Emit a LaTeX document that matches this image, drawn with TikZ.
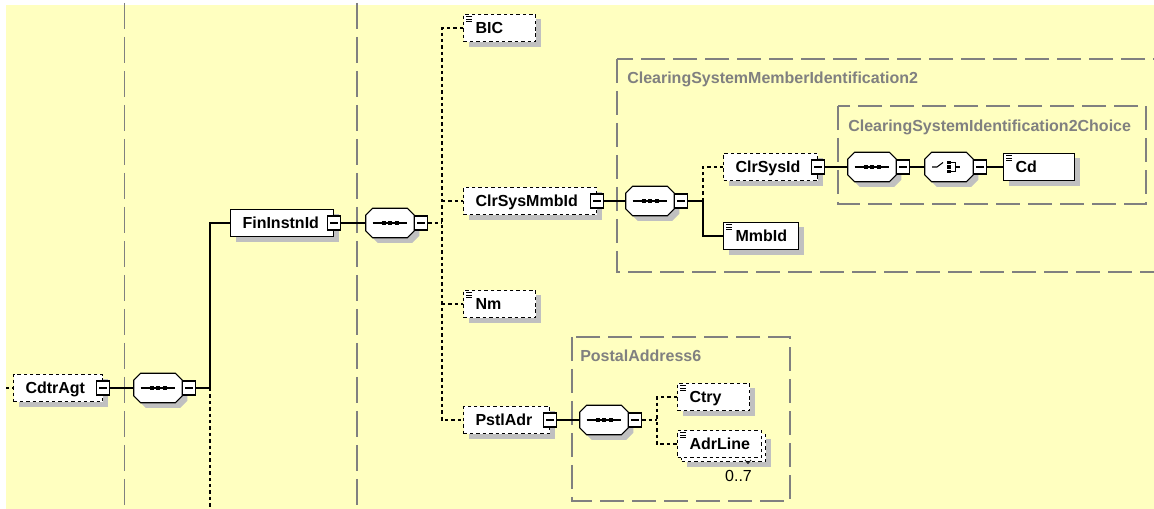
\documentclass[tikz,border=0pt]{standalone}
\usepackage{fontspec}
\setmainfont{Liberation Sans}
\usepackage{xcolor}
\usepackage{tikz}
\usetikzlibrary{positioning,shadows}

\definecolor{diagbg}{RGB}{255,255,192}
\definecolor{groupgray}{RGB}{128,128,128}
\definecolor{shadowgray}{RGB}{192,192,192}

\newcommand{\elemfont}{\fontsize{12pt}{14pt}\selectfont\bfseries}
\newcommand{\occfont}{\fontsize{12pt}{14pt}\selectfont}

\tikzset{
  elembox/.style={draw, line width=0.8pt, fill=white, font=\elemfont, align=left,
    inner xsep=9pt, inner ysep=0pt, minimum height=20.6pt,
    text height=10.6pt, text depth=2pt, anchor=west},
  shadowed/.style={drop shadow={shadow xshift=3.75pt, shadow yshift=-3.75pt,
    fill=shadowgray, opacity=1}},
  elem/.style={elembox, shadowed},
  optelem/.style={elem, dash pattern=on 2.6pt off 2.2pt},
  seqbox/.style={rectangle, minimum width=36pt, minimum height=21.75pt, inner sep=0pt},
  minusbox/.style={draw, line width=0.8pt, fill=white, minimum width=9.75pt,
    minimum height=10.5pt, inner sep=0pt,
    path picture={\draw[line width=0.8pt] ([xshift=2pt]path picture bounding box.west)
      -- ([xshift=-2pt]path picture bounding box.east);}},
  link/.style={line width=0.8pt},
  optlink/.style={link, dash pattern=on 2.6pt off 2.2pt},
  groupbox/.style={draw=groupgray, line width=0.8pt, dash pattern=on 18pt off 6pt},
  grouplabel/.style={font=\elemfont, text=groupgray, anchor=base west, inner sep=0pt},
  column/.style={draw=groupgray, line width=0.8pt, dash pattern=on 19.5pt off 6pt}
}

% octagon frame of a compositor node, with its shadow
\newcommand{\octframe}[1]{%
  \foreach \ox/\oy/\octstyle in {5/5/{fill=shadowgray}, 0/0/{fill=white, draw, line width=0.8pt}}
    \path[style/.expand once=\octstyle]
      ([shift={(7+\ox,\oy)}]#1.north west) -- ([shift={(-7+\ox,\oy)}]#1.north east)
      -- ([shift={(\ox,7+\oy)}]#1.north east) -- ([shift={(\ox,-7+\oy)}]#1.south east)
      -- ([shift={(-7+\ox,\oy)}]#1.south east) -- ([shift={(7+\ox,\oy)}]#1.south west)
      -- ([shift={(\ox,-7+\oy)}]#1.south west) -- ([shift={(\ox,7+\oy)}]#1.north west) -- cycle;
}
% icon inside a sequence compositor
\newcommand{\seqicon}[1]{%
  \draw[line width=0.8pt] ([xshift=-13pt]#1.center) -- ([xshift=13pt]#1.center);
  \foreach \dx in {-6.5,0,6.5}
    \fill ([shift={(\dx,0)}]#1.center) +(-2,-2) rectangle +(2,2);
}
% icon inside a choice compositor
\newcommand{\choiceicon}[1]{%
  \draw[line width=0.8pt] ([shift={(-17,0)}]#1.center) -- ++(5,0) -- ++(6,-4.5);
  \foreach \dy in {-4.5,0,4.5}
    \fill ([shift={(0,\dy)}]#1.center) +(-1.7,-1.7) rectangle +(1.7,1.7);
  \draw[line width=0.8pt] ([shift={(1.7,-4.5)}]#1.center) -| ([shift={(6.5,4.5)}]#1.center) -- ++(-4.8,0);
  \draw[line width=0.8pt] ([shift={(6.5,0)}]#1.center) -- ++(4,0);
}
% small text icon in the corner of simple elements
\newcommand{\docicon}[1]{%
  \foreach \k in {0,1,2}
    \draw[line width=0.6pt] ([shift={(3,{3+2.5*\k})}]#1.north west) -- ++(6,0);
}

\begin{document}
\begin{tikzpicture}[x=0.75pt,y=-0.75pt]
\useasboundingbox (0,0) rectangle (1154,509);
\clip (0,0) rectangle (1154,509);
\fill[diagbg] (6,5) rectangle (1154,509);

% columns
\draw[column] (124.5,3) -- (124.5,509);
\draw[column] (357,3) -- (357,509);

% type groups
\draw[groupbox] (617,59) rectangle (1180,272);
\draw[groupbox] (838,106) rectangle (1146,204);
\draw[groupbox] (572,337) rectangle (790,501);
\node[grouplabel] (csmid-lbl) at (627,84) {ClearingSystemMemberIdentification2};
\node[grouplabel] (csid-lbl) at (848,131.5) {ClearingSystemIdentification2Choice};
\node[grouplabel] (pstl-lbl) at (580,361.5) {PostalAddress6};

% elements
\node[optelem, text width=48.75pt] (cdtragt) at (13,388) {CdtrAgt};
\node[minusbox] (cdtragt-m) at (cdtragt.east) {};
\node[seqbox] (seq1) at (158,388) {};
\coordinate (j1) at (210,388);
\coordinate (entry) at (6,388);
\coordinate (more) at (210,509);

\node[elem, text width=59.25pt] (fininstnid) at (230,223) {FinInstnId};
\node[minusbox] (fininstnid-m) at (fininstnid.east) {};
\node[seqbox] (seq2) at (390,223) {};
\coordinate (j2) at (442,223);

\node[optelem, text width=36pt] (bic) at (463,28) {BIC};
\node[optelem, text width=81.75pt] (clrsysmmbid) at (463,201) {ClrSysMmbId};
\node[minusbox] (clrsysmmbid-m) at (clrsysmmbid.east) {};
\node[optelem, text width=36pt] (nm) at (463,304) {Nm};
\node[optelem, text width=46.5pt] (pstladr) at (463,420) {PstlAdr};
\node[minusbox] (pstladr-m) at (pstladr.east) {};

\node[seqbox] (seq3) at (650,201) {};
\coordinate (j3) at (703,201);
\node[optelem, text width=52.5pt] (clrsysid) at (723,167) {ClrSysId};
\node[minusbox] (clrsysid-m) at (clrsysid.east) {};
\node[elem, text width=38.25pt] (mmbid) at (723,236) {MmbId};

\node[seqbox] (seq4) at (872,167) {};
\node[seqbox] (choice) at (949,167) {};
\node[elem, text width=35.25pt] (cd) at (1003,167) {Cd};

\node[seqbox] (seq5) at (604,420) {};
\coordinate (j4) at (657,420);
\node[optelem, text width=36pt] (ctry) at (677,397) {Ctry};
\node[elembox, shadowed, dash pattern=on 2.6pt off 2.2pt, text width=45pt] (adrline-back) at (681,448) {};
\node[elembox, dash pattern=on 2.6pt off 2.2pt, text width=45pt] (adrline) at (677,444) {AdrLine};
\draw[line width=0.6pt] (745,460) -- (748,463.5) -- (751,460);
\node[font=\occfont, inner sep=0pt] (adrline-occ) at (738.5,476) {0..7};

% compositors
\foreach \c in {seq1,seq2,seq3,seq4,seq5,choice}
  \octframe{\c};
\foreach \c in {seq1,seq2,seq3,seq4,seq5}
  \seqicon{\c};
\choiceicon{choice}
\node[minusbox, anchor=west] (seq1-m) at (seq1.east) {};
\node[minusbox, anchor=west] (seq2-m) at (seq2.east) {};
\node[minusbox, anchor=west] (seq3-m) at (seq3.east) {};
\node[minusbox, anchor=west] (seq4-m) at (seq4.east) {};
\node[minusbox, anchor=west] (choice-m) at (choice.east) {};
\node[minusbox, anchor=west] (seq5-m) at (seq5.east) {};

% icons
\foreach \c in {bic,nm,mmbid,cd,ctry,adrline}
  \docicon{\c};

% connectors
\draw[optlink] (entry) -- (cdtragt.west);
\draw[link] (cdtragt-m.east) -- (seq1.west);
\draw[link] (seq1-m.east) -- (j1) |- (fininstnid.west);
\draw[optlink] (j1) -- (more);
\draw[link] (fininstnid-m.east) -- (seq2.west);
\draw[optlink] (seq2-m.east) -- (j2);
\draw[optlink] (bic.west) -| (j2) |- (pstladr.west);
\draw[optlink] (j2 |- clrsysmmbid.west) -- (clrsysmmbid.west);
\draw[optlink] (j2 |- nm.west) -- (nm.west);
\draw[link] (clrsysmmbid-m.east) -- (seq3.west);
\draw[link] (seq3-m.east) -- (j3) |- (mmbid.west);
\draw[optlink] (j3) |- (clrsysid.west);
\draw[link] (clrsysid-m.east) -- (seq4.west);
\draw[link] (seq4-m.east) -- (choice.west);
\draw[link] (choice-m.east) -- (cd.west);
\draw[link] (pstladr-m.east) -- (seq5.west);
\draw[optlink] (seq5-m.east) -- (j4);
\draw[optlink] (ctry.west) -| (j4) |- (adrline.west);
\end{tikzpicture}
\end{document}
